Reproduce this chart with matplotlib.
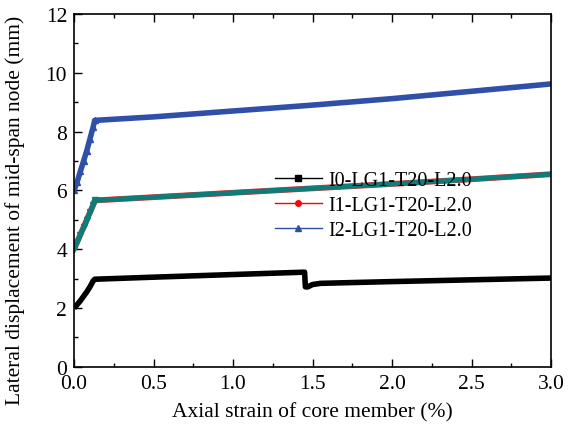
import matplotlib
matplotlib.use('Agg')
from matplotlib import pyplot as plt

plt.rcParams['font.family'] = ['Liberation Serif', 'DejaVu Serif']

# values
strain_i0 = [0.0, 0.02, 0.04, 0.06, 0.08, 0.10, 0.12, 0.13, 0.5, 1.0, 1.45, 1.455, 1.47, 1.5, 1.55, 2.0, 2.5, 3.0]
disp_i0 = [2.0, 2.12, 2.25, 2.4, 2.55, 2.72, 2.92, 2.98, 3.05, 3.14, 3.22, 2.72, 2.72, 2.8, 2.84, 2.9, 2.96, 3.02]

strain_i1 = [0.0, 0.02, 0.04, 0.06, 0.08, 0.10, 0.12, 0.13, 0.5, 1.0, 1.5, 2.0, 2.5, 3.0]
disp_i1 = [4.0, 4.25, 4.5, 4.75, 5.0, 5.25, 5.5, 5.66, 5.77, 5.92, 6.07, 6.22, 6.38, 6.55]

strain_i2 = [0.0, 0.02, 0.04, 0.06, 0.08, 0.10, 0.12, 0.13, 0.5, 1.0, 1.5, 2.0, 2.5, 3.0]
disp_i2 = [6.0, 6.3, 6.65, 7.0, 7.35, 7.75, 8.15, 8.38, 8.5, 8.7, 8.9, 9.12, 9.37, 9.62]

labels = ['I0-LG1-T20-L2.0', 'I1-LG1-T20-L2.0', 'I2-LG1-T20-L2.0']

fig = plt.figure(figsize=(5.74, 4.39), dpi=100)
ax = fig.add_axes([0.129, 0.162, 0.831, 0.804])

# thick lines mimic the dense markers
ax.plot(strain_i0, disp_i0, color='black', lw=4.0, solid_capstyle='butt')
ax.plot(strain_i1, disp_i1, color='#f03030', lw=4.2, solid_capstyle='butt')
ax.plot(strain_i1, disp_i1, color='#0e7c78', lw=3.6, solid_capstyle='butt')
ax.plot(strain_i2, disp_i2, color='#2f4fa8', lw=4.0, solid_capstyle='butt')
ax.plot(strain_i2[:8], disp_i2[:8], ls='none', marker='^', ms=5, color='#2f4fa8')
ax.plot(strain_i1[:8], disp_i1[:8], ls='none', marker='v', ms=5, color='#0e7c78')

# legend proxies
h0, = ax.plot([], [], color='black', lw=1, marker='s', ms=4)
h1, = ax.plot([], [], color='red', lw=1, marker='o', ms=4)
h2, = ax.plot([], [], color='#2f4fa8', lw=1, marker='^', ms=4)
ax.legend([h0, h1, h2], labels, loc='upper left', bbox_to_anchor=(0.405, 0.578),
          frameon=False, fontsize=14.5, handlelength=2.3, handletextpad=0.35,
          labelspacing=0.3, borderaxespad=0)

ax.set_xlim(0, 3.0)
ax.set_ylim(0, 12)
ax.set_xticks([0.0, 0.5, 1.0, 1.5, 2.0, 2.5, 3.0])
ax.set_xticks([0.25, 0.75, 1.25, 1.75, 2.25, 2.75], minor=True)
ax.set_yticks([0, 2, 4, 6, 8, 10, 12])
ax.set_yticks([1, 3, 5, 7, 9, 11], minor=True)
ax.tick_params(which='both', direction='in', top=True, right=False, labelsize=15.5, width=1)
ax.tick_params(which='major', length=6, pad=5)
ax.tick_params(which='minor', length=3)
for s in ax.spines.values():
    s.set_linewidth(1.2)

ax.set_xlabel('Axial strain of core member (%)', fontsize=15.5)
ax.xaxis.set_label_coords(0.5, -0.1)
ax.set_ylabel('Lateral displacement of mid-span node (mm)', fontsize=15.5)
ax.yaxis.set_label_coords(-0.103, 0.445)

fig.text(0.238, 1.022, '(a)', fontsize=16, ha='center', va='center')

fig.savefig('out.png', dpi=100)
